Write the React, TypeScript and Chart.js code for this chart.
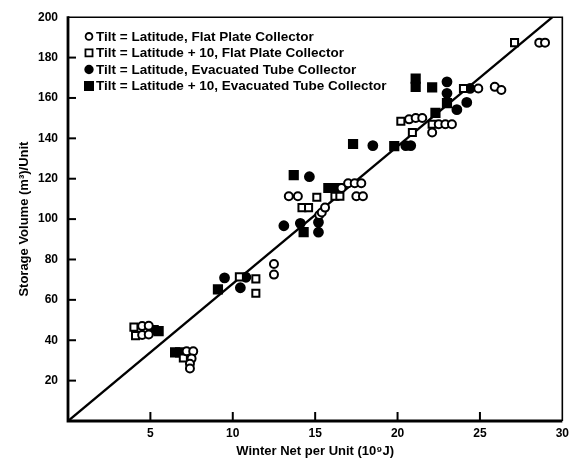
import React, { useEffect, useRef } from 'react';
import { Chart, registerables } from 'chart.js';

Chart.register(...registerables);

// ---- data ----
const xTickValues = [0, 5, 10, 15, 20, 25, 30];
const yTickValues = [0, 20, 40, 60, 80, 100, 120, 140, 160, 180, 200];

const seriesLabels = [
  'Tilt = Latitude, Flat Plate Collector',
  'Tilt = Latitude + 10, Flat Plate Collector',
  'Tilt = Latitude, Evacuated Tube Collector',
  'Tilt = Latitude + 10, Evacuated Tube Collector',
];

const flatLatitude: [number, number][] = [
  [4.5, 47], [4.9, 47.2], [4.5, 42.6], [4.9, 42.8],
  [7.2, 34.5], [7.6, 34.5], [7.5, 30.9], [7.4, 28.3], [7.4, 26],
  [12.5, 77.8], [12.5, 72.5],
  [13.4, 111.3], [13.95, 111.3], [15.25, 102], [15.4, 103.3], [15.6, 105.7],
  [16.6, 115.4], [17.0, 117.8], [17.4, 117.8], [17.8, 117.8], [17.5, 111.3], [17.9, 111.3],
  [20.7, 149.4], [21.1, 150.1], [21.5, 150.1], [22.1, 142.9], [22.5, 147], [22.9, 147],
  [23.3, 147], [24.9, 164.7], [25.9, 165.5], [26.3, 163.9], [28.6, 187.4], [28.95, 187.4],
];

const flatLatitude10: [number, number][] = [
  [4.0, 46.5], [4.1, 42.3], [7.0, 31.2],
  [10.4, 71.4], [11.4, 70.4], [11.4, 63.3],
  [14.2, 105.7], [14.6, 105.7], [15.1, 110.8], [16.2, 111.3], [16.5, 111.3],
  [20.2, 148.5], [20.9, 142.9], [22.1, 147], [24.0, 164.7], [27.1, 187.4],
];

const tubeLatitude: [number, number][] = [
  [9.5, 70.9], [10.46, 66], [10.8, 71.2],
  [13.1, 96.7], [14.1, 97.9], [14.65, 121], [15.2, 98.4], [15.2, 93.5],
  [18.5, 136.4], [20.5, 136.4], [20.8, 136.4],
  [23.0, 168], [23.0, 162.3], [23.6, 154.2], [24.2, 157.8], [24.4, 164.7],
];

const tubeLatitude10: [number, number][] = [
  [5.2, 45], [5.5, 44.5], [6.5, 34], [6.8, 34], [9.1, 65.2],
  [13.7, 121.8], [14.3, 93.5], [15.8, 115.4], [16.1, 115.4], [16.4, 115.4],
  [17.3, 137.2], [19.8, 136.1],
  [21.1, 169.6], [21.1, 165.5], [22.1, 165.2], [22.3, 152.6], [23.0, 157.4],
];

const fitLine: [number, number][] = [[0, 0], [29.4, 200]];

const FONT = "'Liberation Sans', Arial, sans-serif";

const toPts = (arr: [number, number][]) => arr.map(([x, y]) => ({ x, y }));

const markerStyles = [
  { pointStyle: 'circle', fill: '#fff', r: 4 },
  { pointStyle: 'rect', fill: '#fff', r: 5 },
  { pointStyle: 'circle', fill: '#000', r: 4.4 },
  { pointStyle: 'rect', fill: '#000', r: 5.8 },
];

const decorPlugin = {
  id: 'decor',
  afterDatasetsDraw(chart: any) {
    const { ctx, chartArea: a, scales } = chart;
    const xs = scales.x;
    const ys = scales.y;
    ctx.save();
    ctx.strokeStyle = '#000';
    ctx.lineCap = 'butt';
    // frame
    ctx.lineWidth = 1.6;
    ctx.beginPath();
    ctx.moveTo(a.left, a.top);
    ctx.lineTo(a.right, a.top);
    ctx.lineTo(a.right, a.bottom);
    ctx.stroke();
    ctx.lineWidth = 2.8;
    ctx.beginPath();
    ctx.moveTo(a.left, a.top - 1);
    ctx.lineTo(a.left, a.bottom);
    ctx.lineTo(a.right, a.bottom);
    ctx.stroke();
    // inward ticks
    ctx.lineWidth = 2;
    xTickValues.forEach((v) => {
      if (v === 0 || v === 30) return;
      const px = xs.getPixelForValue(v);
      ctx.beginPath();
      ctx.moveTo(px, a.bottom);
      ctx.lineTo(px, a.bottom - 9);
      ctx.stroke();
    });
    yTickValues.forEach((v) => {
      if (v === 0 || v === 200) return;
      const py = ys.getPixelForValue(v);
      ctx.beginPath();
      ctx.moveTo(a.left, py);
      ctx.lineTo(a.left + 8, py);
      ctx.stroke();
    });
    // legend
    const lx = a.left + 21;
    const tx = a.left + 28;
    const rows = [ys.getPixelForValue(190.5), ys.getPixelForValue(182.3), ys.getPixelForValue(174.1), ys.getPixelForValue(165.9)];
    ctx.font = `bold 13.5px ${FONT}`;
    ctx.textBaseline = 'middle';
    ctx.textAlign = 'left';
    ctx.fillStyle = '#000';
    seriesLabels.forEach((label, i) => {
      const y = rows[i];
      const m = markerStyles[i];
      ctx.lineWidth = 1.8;
      ctx.fillStyle = m.fill;
      ctx.beginPath();
      if (m.pointStyle === 'circle') {
        ctx.arc(lx, y, m.r - 0.6, 0, Math.PI * 2);
      } else {
        const s = m.r * Math.SQRT1_2;
        ctx.rect(lx - s, y - s, 2 * s, 2 * s);
      }
      ctx.fill();
      ctx.stroke();
      ctx.fillStyle = '#000';
      ctx.fillText(label, tx, y + 0.5);
    });
    ctx.restore();
  },
};

export default function App() {
  const ref = useRef<HTMLCanvasElement | null>(null);

  useEffect(() => {
    if (!ref.current) return;
    const sets = [flatLatitude, flatLatitude10, tubeLatitude, tubeLatitude10];
    const datasets: any[] = sets.map((arr, i) => ({
      type: 'scatter',
      label: seriesLabels[i],
      data: toPts(arr),
      pointStyle: markerStyles[i].pointStyle,
      pointRadius: markerStyles[i].r,
      pointBackgroundColor: markerStyles[i].fill,
      pointBorderColor: '#000',
      pointBorderWidth: 2,
      showLine: false,
      order: 1,
    }));
    datasets.push({
      type: 'line',
      label: 'fit',
      data: toPts(fitLine),
      borderColor: '#000',
      borderWidth: 2.4,
      pointRadius: 0,
      fill: false,
      order: 2,
    });

    const chart = new Chart(ref.current, {
      type: 'scatter',
      data: { datasets },
      plugins: [decorPlugin],
      options: {
        animation: false,
        responsive: false,
        devicePixelRatio: 1,
        layout: { padding: { left: 0, right: 6, top: 8, bottom: 0 } },
        plugins: { legend: { display: false }, tooltip: { enabled: false } },
        scales: {
          x: {
            type: 'linear',
            min: 0,
            max: 30,
            afterBuildTicks: (s: any) => { s.ticks = xTickValues.map((v) => ({ value: v })); },
            afterFit: (s: any) => { s.height = 47; },
            grid: { display: false, drawTicks: false },
            border: { display: false },
            ticks: {
              padding: 5,
              color: '#000',
              font: { family: FONT, size: 12, weight: 'bold' },
              callback: (v: any) => (v === 0 ? '' : String(v)),
              maxRotation: 0,
              autoSkip: false,
            },
            title: {
              display: true,
              text: 'Winter Net per Unit (10⁹J)',
              color: '#000',
              font: { family: FONT, size: 13, weight: 'bold' },
              padding: { top: 0, bottom: 9 },
            },
          },
          y: {
            type: 'linear',
            min: 0,
            max: 200,
            afterBuildTicks: (s: any) => { s.ticks = yTickValues.map((v) => ({ value: v })); },
            afterFit: (s: any) => { s.width = 68; },
            grid: { display: false, drawTicks: false },
            border: { display: false },
            ticks: {
              padding: 10,
              color: '#000',
              font: { family: FONT, size: 12, weight: 'bold' },
              callback: (v: any) => (v === 0 ? '' : String(v)),
              autoSkip: false,
            },
            title: {
              display: true,
              text: 'Storage Volume (m³)/Unit',
              color: '#000',
              font: { family: FONT, size: 13, weight: 'bold' },
              padding: { top: 17, bottom: 0 },
            },
          },
        },
      },
    } as any);
    return () => chart.destroy();
  }, []);

  return (
    <div style={{ position: 'absolute', left: 0, top: 0, width: 574, height: 468, background: '#fff' }}>
      <canvas ref={ref} width={574} height={468} style={{ display: 'block', width: 574, height: 468 }} />
    </div>
  );
}
